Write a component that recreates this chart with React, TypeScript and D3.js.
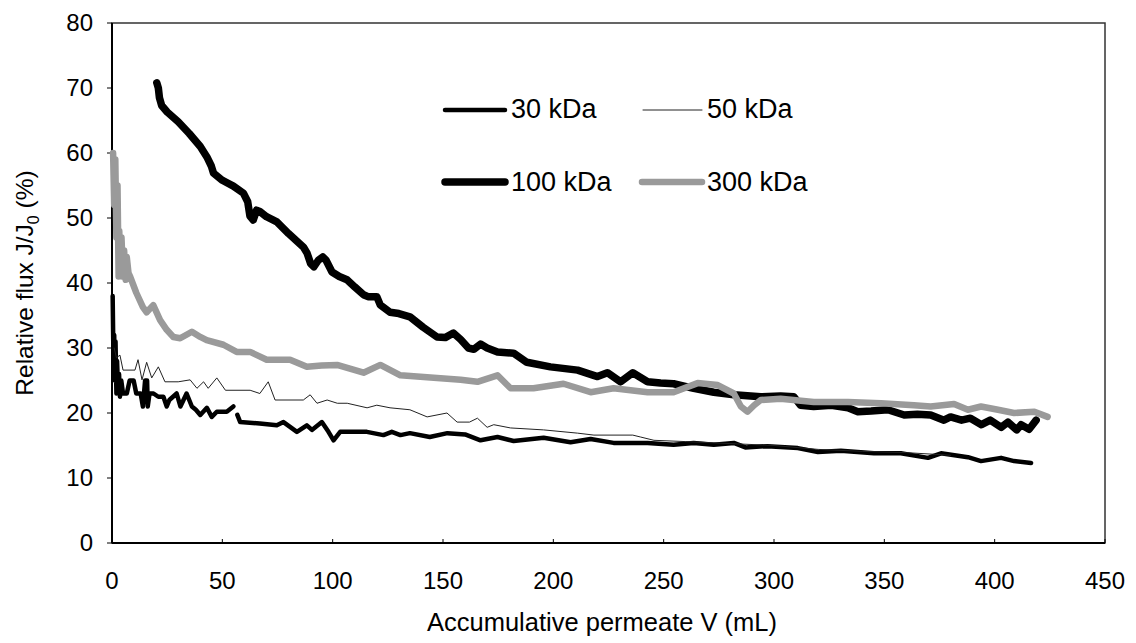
import React from "react";
import * as d3 from "d3";

type Pt = [number, number];

const xTicks = [0, 50, 100, 150, 200, 250, 300, 350, 400, 450];
const yTicks = [0, 10, 20, 30, 40, 50, 60, 70, 80];

const seriesNames = ["30 kDa", "50 kDa", "100 kDa", "300 kDa"];

const kDa30: Pt[] = [
  [0.3, 38], [0.6, 30], [1, 32], [1.3, 25], [1.6, 31], [2, 23], [2.3, 28], [2.7, 24], [3.2, 26],
  [3.6, 22.5], [4.2, 25], [5, 23], [6.7, 23], [8, 25], [9.8, 25], [11, 23], [13, 23], [14, 21],
  [15, 25], [15.9, 25], [16.2, 21], [17, 23], [18.8, 23], [21, 22.5], [23.3, 22.5], [24.8, 21],
  [26, 22], [29.3, 23], [31, 21], [33.8, 23], [36.2, 21], [38, 20.5], [40, 19.7], [43, 20.8],
  [45.2, 19.4], [47.5, 20.2], [52, 20.2], [55, 21], [NaN, NaN], [56.8, 19.7], [58.1, 18.6],
  [67, 18.4], [74.7, 18.1], [77.7, 18.6], [83.8, 17.1], [88.3, 18.1], [90.6, 17.4], [95.1, 18.6],
  [98.1, 17.1], [100.4, 15.8], [103.4, 17.1], [115.5, 17.1], [123, 16.6], [126.8, 17.1],
  [130.7, 16.6], [135, 16.9], [144, 16.3], [152, 16.9], [160, 16.7], [167, 15.8], [174.7, 16.3],
  [182, 15.7], [195.6, 16.2], [207.8, 15.5], [216.9, 16], [227.3, 15.4], [242.7, 15.4],
  [254.5, 15.1], [263.6, 15.4], [272.7, 15.1], [281.8, 15.4], [287, 14.7], [297, 14.9],
  [310.8, 14.6], [319.9, 14], [330.3, 14.2], [345.3, 13.8], [357.5, 13.8], [369.8, 13.1],
  [375.7, 13.8], [387.9, 13.2], [393.8, 12.6], [402.9, 13.1], [408.8, 12.6], [416.5, 12.3],
];

const kDa50: Pt[] = [
  [1, 30], [2, 28.5], [3.6, 28.9], [5, 26.6], [10.4, 26.6], [11.8, 28.2], [13.6, 25.1], [15.7, 27.8],
  [18, 25.4], [21, 27.1], [24, 24.8], [30, 24.8], [35.4, 25.1], [38.5, 23.8], [41.5, 24.8],
  [43.6, 23.8], [47.5, 25.4], [51.4, 23.5], [62.6, 23.5], [67, 23], [70.8, 24.8], [73.9, 22],
  [86.7, 22], [89.8, 22.8], [92.9, 21.5], [97.5, 22], [102.1, 21.5], [106.6, 21.5], [115.6, 20.8],
  [120, 21.2], [126, 20.8], [135, 20.5], [142.8, 19.4], [151.8, 20], [156.4, 18.6], [162, 18.6],
  [165.6, 19.2], [170, 17.8], [173, 18.2], [180.6, 17.7], [195.6, 17.4], [211, 16.9], [218.4, 16.6],
  [236, 16.6], [239.6, 16.3], [245.6, 15.8], [260, 15.6], [280, 15.3], [300, 15], [320, 14.4],
  [340, 14.1], [360, 13.9], [380, 13.5],
];

const kDa100: Pt[] = [
  [20.3, 70.8], [21, 70], [21.5, 68.5], [22.5, 67.3], [25, 66.3], [30, 64.8], [35, 63], [40, 61],
  [43, 59.4], [45, 58], [46, 56.9], [50, 55.8], [55, 54.9], [59.6, 53.8], [61.5, 52.5], [62.5, 50.3],
  [64, 49.7], [65.5, 51.2], [67, 51], [70, 50.2], [74.7, 49.4], [80, 47.6], [86.8, 45.5],
  [88.4, 44.6], [90, 43], [91.5, 42.5], [93.5, 43.5], [95.5, 44], [97, 43.5], [99.7, 41.7],
  [103, 41], [106.5, 40.5], [110, 39.4], [114, 38.2], [116, 37.9], [120, 37.9], [121.6, 36.6],
  [126, 35.5], [130, 35.3], [135, 34.8], [141, 33.2], [147.3, 31.7], [151, 31.6], [154.7, 32.3],
  [158, 31.3], [161.5, 30], [164, 29.8], [167, 30.6], [170, 30], [174.7, 29.4], [182, 29.2],
  [188, 27.8], [198.7, 27.1], [211, 26.6], [220, 25.6], [224.5, 26.2], [230.5, 24.8], [236, 26.2],
  [242.7, 24.8], [248.6, 24.6], [254.5, 24.5], [263.6, 23.8], [272.7, 23.2], [281.8, 22.8],
  [294, 22.5], [303, 22.6], [309, 22.5], [312, 21.2], [318, 21], [326, 21.2], [333.5, 20.8],
  [338, 20.2], [344, 20.3], [351.6, 20.5], [359, 19.7], [365, 19.8], [371, 19.7], [377, 18.9],
  [380, 19.4], [385, 18.9], [389, 19.2], [394, 18.2], [398, 18.9], [403, 17.8], [406, 18.6],
  [410, 17.4], [412, 18.2], [415.6, 17.5], [418.8, 18.9],
];

const kDa300: Pt[] = [
  [0.5, 60], [1, 52], [1.5, 59], [2, 47], [2.5, 55], [3, 41], [3.3, 48], [3.8, 42], [4.3, 47],
  [5, 41], [5.5, 45], [6.2, 40.5], [6.7, 44], [7.5, 41.5], [8.2, 41], [11, 38.5], [14, 36.3],
  [15.7, 35.5], [18.7, 36.6], [21.8, 34.3], [24.8, 32.8], [27.8, 31.7], [30.9, 31.5], [36.2, 32.5],
  [40, 31.7], [42.9, 31.2], [50.5, 30.5], [56.5, 29.4], [62.6, 29.4], [70.1, 28.2], [80.7, 28.2],
  [88.3, 27.1], [95, 27.3], [102, 27.4], [114, 26.2], [121.6, 27.4], [130.7, 25.8], [142.8, 25.5],
  [158, 25.1], [165.6, 24.8], [174.7, 25.8], [180.6, 23.8], [191, 23.8], [204.6, 24.5],
  [216.9, 23.2], [227.3, 23.8], [242.7, 23.2], [254.5, 23.2], [265.4, 24.6], [274.5, 24.3],
  [281.8, 23], [285, 21], [288, 20.2], [291, 21.2], [294, 22], [303, 22.2], [318, 21.7],
  [333.5, 21.7], [348.5, 21.5], [363.4, 21.2], [371, 21], [381.6, 21.4], [387.9, 20.5],
  [393.8, 21], [401.5, 20.5], [408.8, 20], [418, 20.2], [424, 19.4],
];

const FONT = "'Liberation Sans', Arial, Helvetica, sans-serif";

export default function App() {
  const W = 1136, H = 643;
  const left = 112, right = 1105, top = 23, bottom = 543;
  const x = d3.scaleLinear().domain([0, 450]).range([left, right]);
  const y = d3.scaleLinear().domain([0, 80]).range([bottom, top]);
  const line = d3
    .line<Pt>()
    .defined((d) => !isNaN(d[0]) && !isNaN(d[1]))
    .x((d) => x(d[0]))
    .y((d) => y(d[1]));

  const styles = [
    { data: kDa30, stroke: "#000", width: 4.5 },
    { data: kDa50, stroke: "#222", width: 1 },
    { data: kDa100, stroke: "#000", width: 7.5 },
    { data: kDa300, stroke: "#9a9a9a", width: 6.5 },
  ];

  const legend = [
    { x1: 445, x2: 505, y: 110, tx: 511, ty: 118 },
    { x1: 643, x2: 702, y: 110, tx: 707, ty: 118 },
    { x1: 445, x2: 505, y: 182, tx: 511, ty: 191 },
    { x1: 642, x2: 702, y: 182, tx: 707, ty: 191 },
  ];

  return (
    <svg
      width={W}
      height={H}
      style={{ position: "absolute", left: 0, top: 0, background: "#fff" }}
      fontFamily={FONT}
    >
      <rect x={0} y={0} width={W} height={H} fill="#fff" />
      {/* frame */}
      <rect x={left} y={top} width={right - left} height={bottom - top} fill="none" stroke="#333" strokeWidth={1.5} />
      <line x1={left} x2={left} y1={top} y2={bottom} stroke="#000" strokeWidth={2} />
      <line x1={left} x2={right} y1={bottom} y2={bottom} stroke="#000" strokeWidth={2} />
      {/* y ticks */}
      {yTicks.map((t) => (
        <g key={"y" + t}>
          <line x1={left - 5} x2={left} y1={y(t)} y2={y(t)} stroke="#000" strokeWidth={1} />
          <text x={93} y={y(t)} dy="0.35em" textAnchor="end" fontSize={24} fill="#000">
            {t}
          </text>
        </g>
      ))}
      {/* x ticks */}
      {xTicks.map((t) => (
        <g key={"x" + t}>
          <line x1={x(t)} x2={x(t)} y1={bottom} y2={bottom - 4} stroke="#000" strokeWidth={1} />
          <text x={x(t)} y={589} textAnchor="middle" fontSize={24} fill="#000">
            {t}
          </text>
        </g>
      ))}
      {/* axis titles */}
      <text x={602} y={631} textAnchor="middle" fontSize={25.5} fill="#000">
        Accumulative permeate V (mL)
      </text>
      <text transform={`translate(33,${(top + bottom) / 2}) rotate(-90)`} textAnchor="middle" fontSize={24.5} fill="#000">
        Relative flux J/J
        <tspan fontSize={16} dy={6}>0</tspan>
        <tspan dy={-6}> (%)</tspan>
      </text>
      {/* series */}
      {styles.map((s, i) => (
        <path
          key={i}
          d={line(s.data) || ""}
          fill="none"
          stroke={s.stroke}
          strokeWidth={s.width}
          strokeLinejoin="round"
          strokeLinecap="round"
        />
      ))}
      {/* legend */}
      {legend.map((l, i) => (
        <g key={"l" + i}>
          <line x1={l.x1} x2={l.x2} y1={l.y} y2={l.y} stroke={styles[i].stroke} strokeWidth={styles[i].width} strokeLinecap="round" />
          <text x={l.tx} y={l.ty} fontSize={27} fill="#000">
            {seriesNames[i]}
          </text>
        </g>
      ))}
    </svg>
  );
}
